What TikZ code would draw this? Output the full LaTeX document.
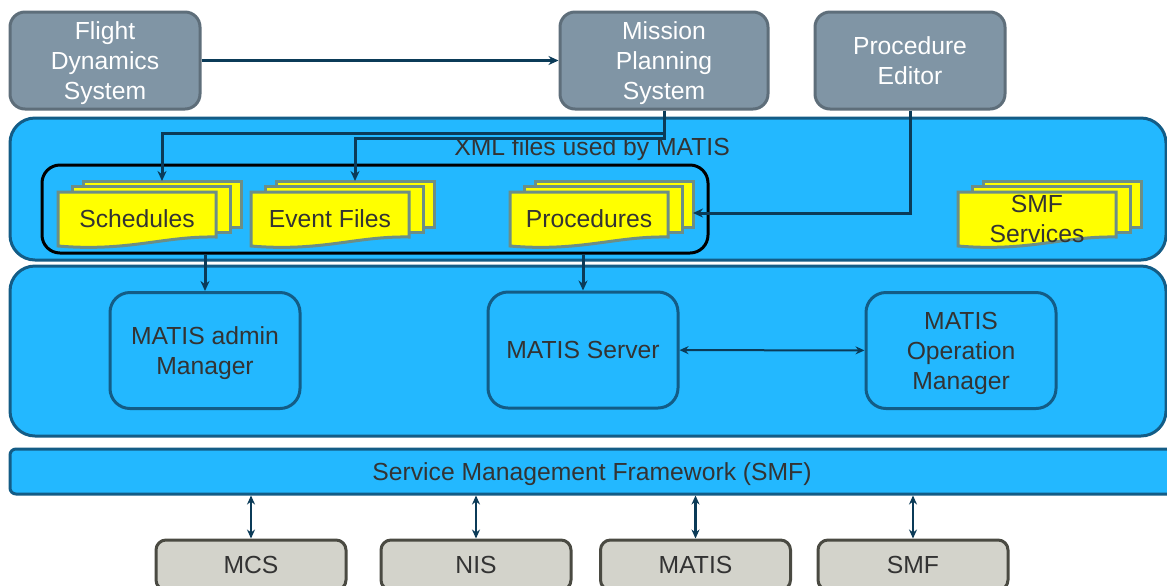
\documentclass[tikz,border=0pt]{standalone}
\usepackage{fontspec}
\setmainfont{Liberation Sans}
\usetikzlibrary{positioning,arrows.meta}

\definecolor{sysgray}{HTML}{8095A5}
\definecolor{sysedge}{HTML}{5E6E7A}
\definecolor{matisblue}{HTML}{23B8FF}
\definecolor{paneledge}{HTML}{135C86}
\definecolor{linec}{HTML}{0B3B58}
\definecolor{docyellow}{HTML}{FFFF00}
\definecolor{docedge}{HTML}{6C8E86}
\definecolor{extgray}{HTML}{D3D3CB}
\definecolor{extedge}{HTML}{4A4A42}
\definecolor{txt}{HTML}{333333}

\tikzset{
  lbl/.style={font=\fontsize{12.35}{15}\selectfont, align=center, text depth=0pt},
  sysbox/.style={lbl, draw=sysedge, fill=sysgray, text=white, line width=1.5pt,
    rounded corners=7.5pt, minimum width=95pt, minimum height=48.5pt},
  panel/.style={draw=paneledge, fill=matisblue, line width=1.5pt, rounded corners=12.5pt},
  module/.style={lbl, draw=paneledge, fill=matisblue, text=txt, line width=1.5pt,
    rounded corners=10pt, minimum width=95pt, minimum height=58pt},
  extbox/.style={lbl, draw=extedge, fill=extgray, text=txt, line width=1.5pt,
    rounded corners=5pt, minimum width=95pt, minimum height=25pt},
  docbox/.style={draw=docedge, fill=docyellow, line width=1.5pt},
  doctext/.style={lbl, text=txt},
  flow/.style={draw=linec, line width=1.5pt, -{Stealth[length=5pt,width=4.5pt]}},
  both/.style={draw=linec, line width=1.4pt, {Stealth[length=4.5pt,width=4pt]}-{Stealth[length=4.5pt,width=4pt]}}
}

% stack of three documents: name, x, y of the front sheet, text
\newcommand{\docstack}[4]{%
  \draw[docbox] (#2+25,#3-11) rectangle (#2+183,#3+35);
  \draw[docbox] (#2+14,#3-6) rectangle (#2+172,#3+40);
  \draw[docbox] (#2,#3) -- (#2+158,#3) -- (#2+158,#3+45)
    .. controls (#2+105,#3+44) and (#2+70,#3+60) .. (#2,#3+54) -- cycle;
  \node[doctext] (#1) at (#2+79,#3+27) {#4};
  \coordinate (#1-top) at (#2+104,#3-11);
  \coordinate (#1-e) at (#2+183,#3+21);
}

\begin{document}
\begin{tikzpicture}[x=0.5pt,y=-0.5pt]
  \clip (0,0) rectangle (1167,585);
  \fill[white] (0,0) rectangle (1167,585);

  % external systems
  \node[sysbox] (fds) at (105,60.5) {Flight\\Dynamics\\System};
  \node[sysbox, minimum width=104pt] (mps) at (664,60.5) {Mission\\Planning\\System};
  \node[sysbox] (pe) at (910,60.5) {Procedure\\Editor};

  % MATIS layers
  \node[panel, minimum width=578pt, minimum height=71pt] (xmlpanel) at (588,189) {};
  \node[panel, minimum width=578pt, minimum height=85pt] (matispanel) at (588,351) {};
  \node[panel, rounded corners=3pt, lbl, text=txt, minimum width=582pt, minimum height=22.5pt] (smfbar) at (592,471.5)
    {Service Management Framework (SMF)};

  \node[lbl, text=txt] (xmltitle) at (592,147) {XML files used by MATIS};
  \node[draw=black, line width=1.5pt, rounded corners=9pt, minimum width=333pt, minimum height=44pt] (xmlbox) at (375,209) {};

  \docstack{sched}{58}{192}{Schedules}
  \docstack{event}{251}{192}{Event Files}
  \docstack{proc}{510}{192}{Procedures}
  \docstack{smfsrv}{958}{192}{SMF\\Services}

  \node[module] (admin) at (205,350.5) {MATIS admin\\Manager};
  \node[module] (server) at (583,350) {MATIS Server};
  \node[module] (opman) at (961,350.5) {MATIS\\Operation\\Manager};

  \node[extbox] (mcs) at (251,565) {MCS};
  \node[extbox] (nis) at (476,565) {NIS};
  \node[extbox] (matis) at (695.5,565) {MATIS};
  \node[extbox] (smf) at (913,565) {SMF};

  % connectors
  \draw[flow] (fds) -- (mps);
  \draw[flow] (mps.south) -- ++(0,23) -| (sched-top);
  \draw[flow] (mps.south) -- ++(0,28) -| (event-top);
  \draw[flow] (pe.south) |- (proc-e);
  \draw[flow] (xmlbox.south -| admin.north) -- (admin.north);
  \draw[flow] (xmlbox.south -| server.north) -- (server.north);
  \draw[both, line width=1pt] (server) -- (opman);
  \draw[both] (smfbar.south -| mcs.north) -- (mcs.north);
  \draw[both] (smfbar.south -| nis.north) -- (nis.north);
  \draw[both] (smfbar.south -| matis.north) -- (matis.north);
  \draw[both] (smfbar.south -| smf.north) -- (smf.north);
\end{tikzpicture}
\end{document}
